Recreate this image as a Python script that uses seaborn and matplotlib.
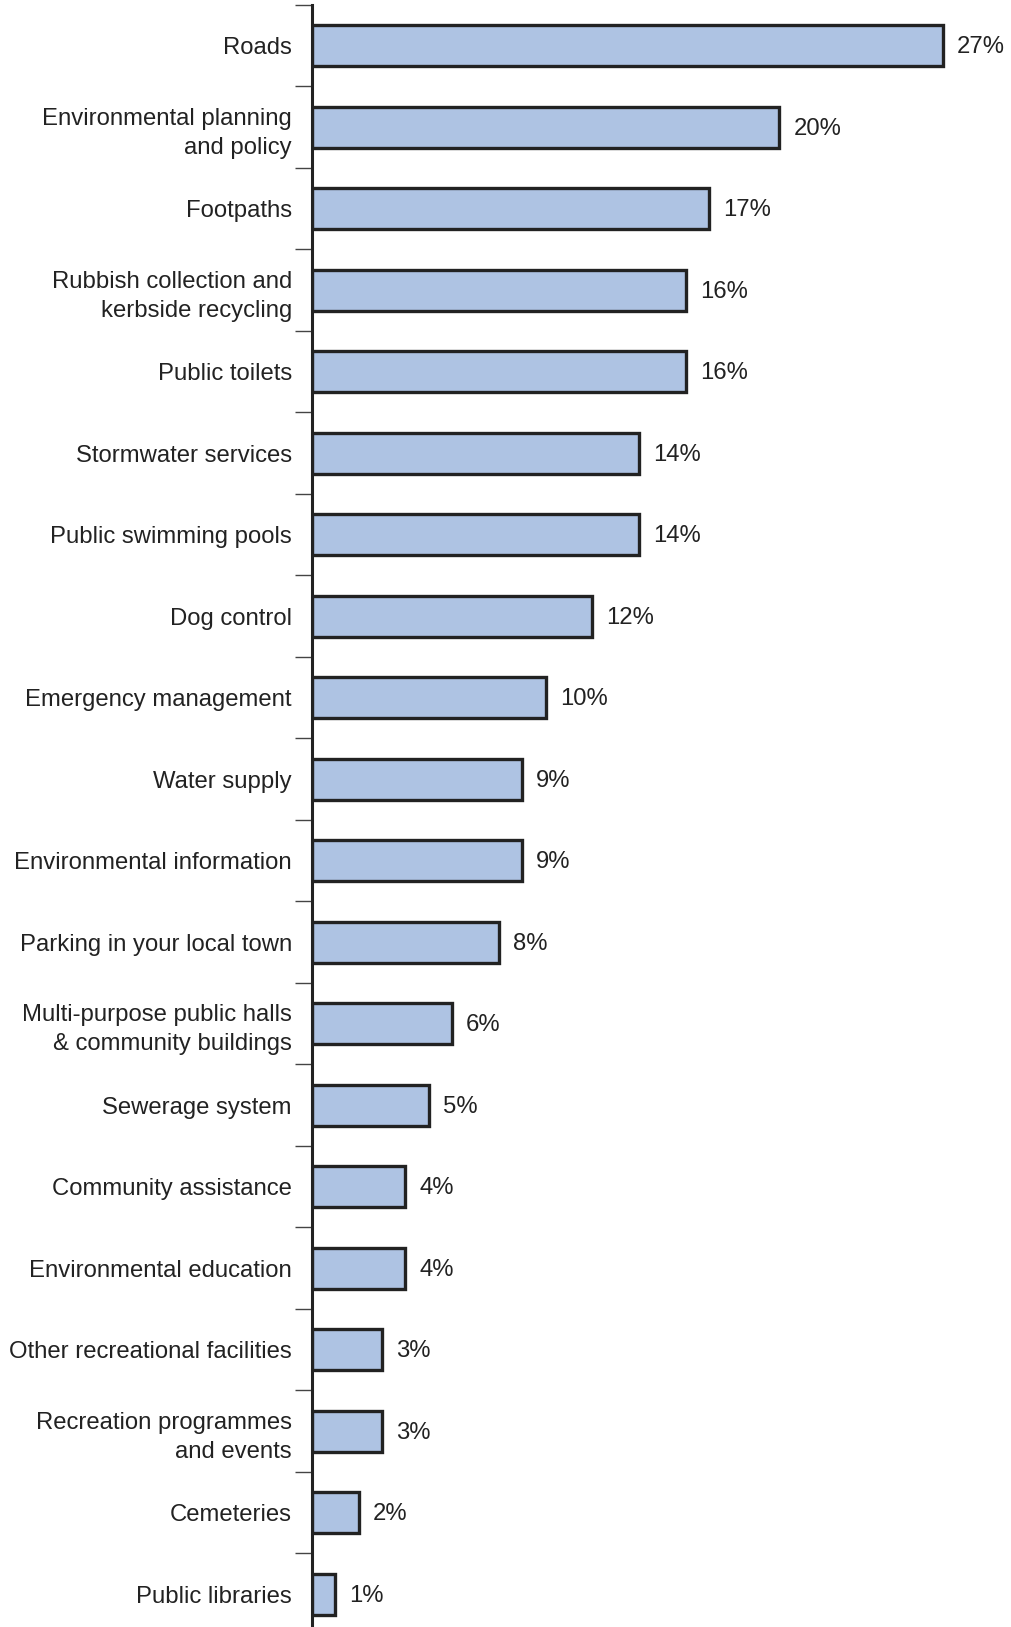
import matplotlib
matplotlib.use("Agg")
import matplotlib.pyplot as plt
import seaborn as sns
import pandas as pd
import numpy as np

services = [
    "Roads",
    "Environmental planning\nand policy",
    "Footpaths",
    "Rubbish collection and\nkerbside recycling",
    "Public toilets",
    "Stormwater services",
    "Public swimming pools",
    "Dog control",
    "Emergency management",
    "Water supply",
    "Environmental information",
    "Parking in your local town",
    "Multi-purpose public halls\n& community buildings",
    "Sewerage system",
    "Community assistance",
    "Environmental education",
    "Other recreational facilities",
    "Recreation programmes\nand events",
    "Cemeteries",
    "Public libraries",
]
percent = [27, 20, 17, 16, 16, 14, 14, 12, 10, 9, 9, 8, 6, 5, 4, 4, 3, 3, 2, 1]

df = pd.DataFrame({"service": services, "percent": percent})

sns.set_theme(style="white")
plt.rcParams["font.family"] = ["Liberation Sans", "DejaVu Sans"]

W, H, DPI = 1011, 1627, 100
fig = plt.figure(figsize=(W / DPI, H / DPI), dpi=DPI)

# axes placement in pixels: spine at x=312, first boundary at y=5, 81.5 px per row
x0 = 312
top = 5
row = 81.5
n = len(services)
bottom_px = top + row * n
ax = fig.add_axes([x0 / W, 1 - bottom_px / H, 1 - x0 / W, (bottom_px - top) / H])

sns.barplot(data=df, x="percent", y="service", orient="h", ax=ax,
            color="#aec3e3", saturation=1, width=0.5,
            edgecolor="#222222", linewidth=2.4)

px_per_unit = 23.37
ax.set_xlim(0, (W - x0) / px_per_unit)
ax.set_ylim(n - 0.5, -0.5)

for i, v in enumerate(percent):
    ax.text(v + 14 / px_per_unit, i + 0.02, f"{v}%", va="center", ha="left",
            fontsize=17.2, color="#222222")

for s in ["top", "right", "bottom"]:
    ax.spines[s].set_visible(False)
ax.spines["left"].set_color("#222222")
ax.spines["left"].set_linewidth(2.2)

ax.set_xticks([])
ax.set_xlabel("")
ax.set_ylabel("")
ax.set_yticks(np.arange(n))
ax.set_yticklabels(services, fontsize=17.2, color="#222222", linespacing=1.4)
ax.tick_params(axis="y", which="major", length=0, pad=14.5)
ax.set_yticks(np.arange(n + 1) - 0.5, minor=True)
ax.tick_params(axis="y", which="minor", length=12.5, width=1.0, color="#444444",
               direction="out", left=True)

fig.savefig("out.png", dpi=DPI)
